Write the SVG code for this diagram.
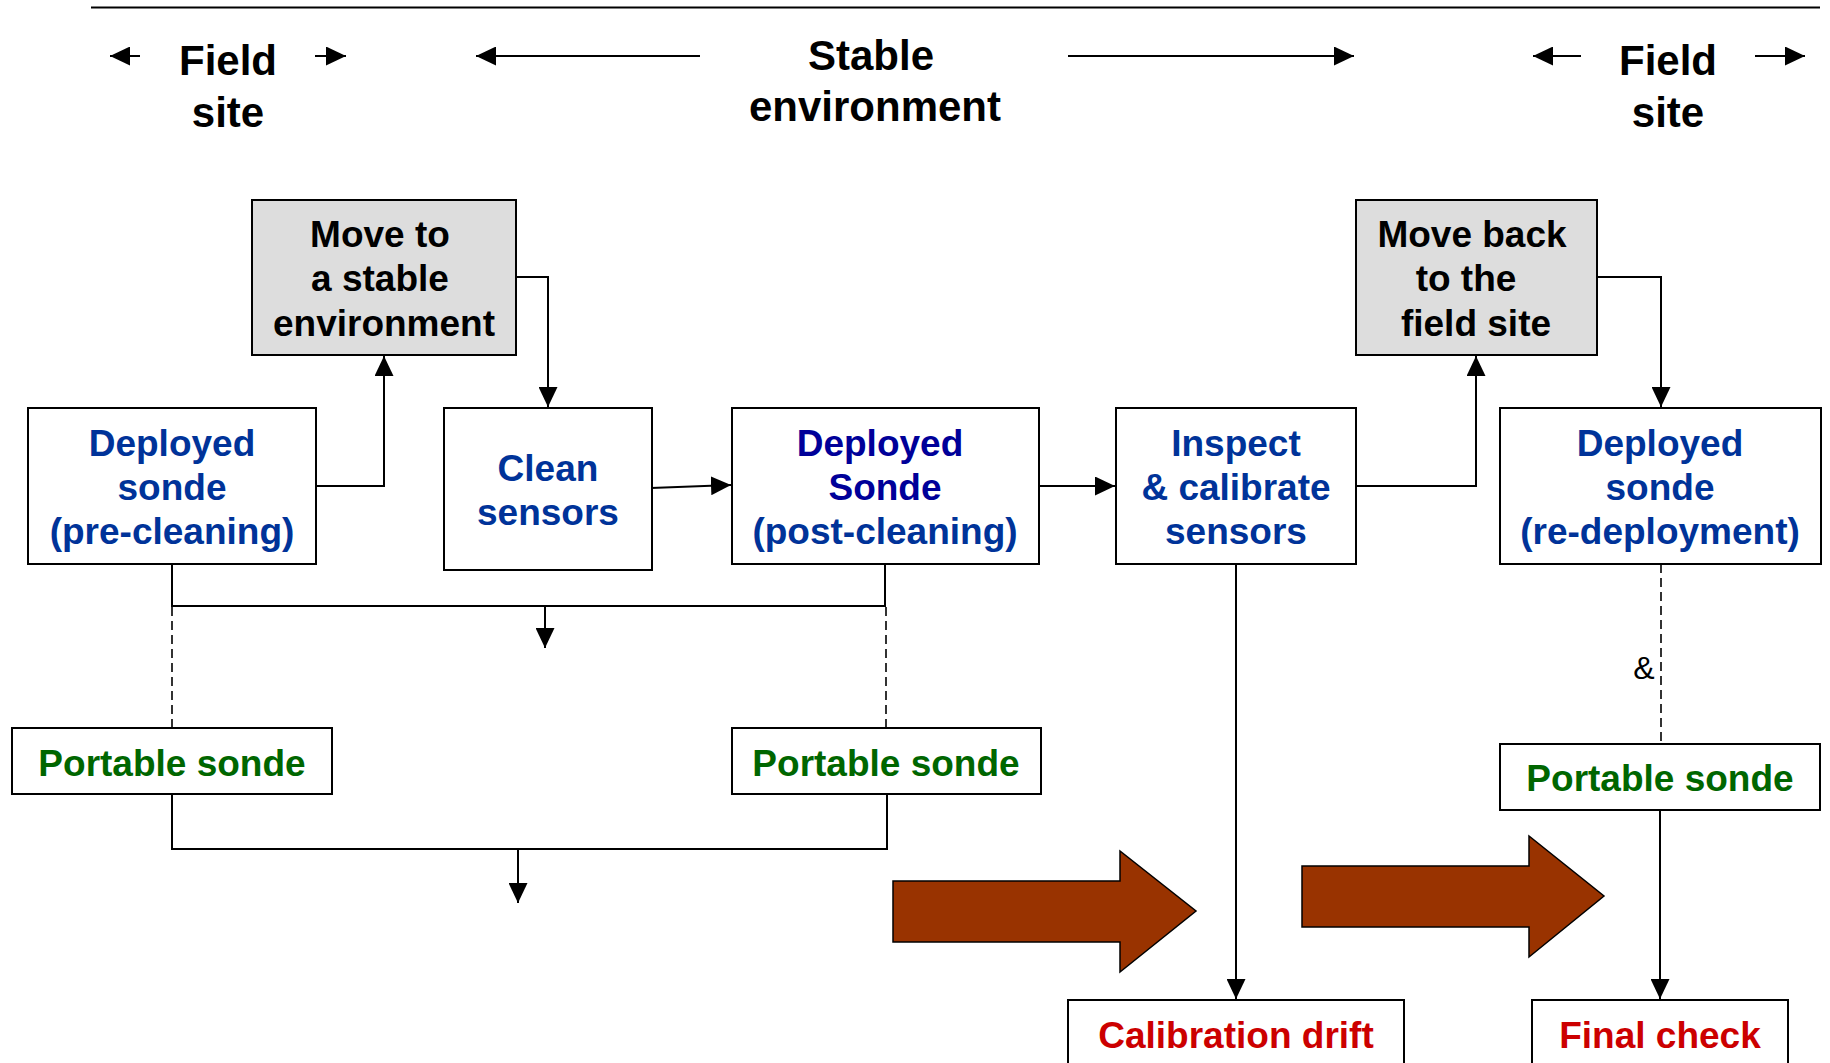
<svg xmlns="http://www.w3.org/2000/svg" width="1830" height="1063" viewBox="0 0 1830 1063">
<style>
text{font-family:"Liberation Sans",Arial,sans-serif;font-weight:bold;text-anchor:middle}
.hd{font-size:42px;fill:#000}
.gt{font-size:37px;fill:#000}
.bt{font-size:37px;fill:#003399}
.nv{font-size:37px;fill:#000099}
.gr{font-size:37px;fill:#006600}
.rd{font-size:37px;fill:#cc0000}
.box{fill:#fff;stroke:#000;stroke-width:2}
.gbox{fill:#dddddd;stroke:#000;stroke-width:2}
.ln{fill:none;stroke:#000;stroke-width:2}
.dl{fill:none;stroke:#000;stroke-width:1.6;stroke-dasharray:9,5}
.big{fill:#993300;stroke:#000;stroke-width:1.5}
</style>
<defs>
<marker id="ah" markerUnits="userSpaceOnUse" markerWidth="21" markerHeight="19" refX="20" refY="9.5" orient="auto" viewBox="0 0 21 19">
<path d="M0,0 L20,9.5 L0,19 z" fill="#000"/>
</marker>
</defs>

<g id="header">
<line x1="91" y1="7.5" x2="1820" y2="7.5" stroke="#000" stroke-width="2"/>
<line class="ln" x1="140" y1="56" x2="110" y2="56" marker-end="url(#ah)"/>
<line class="ln" x1="315" y1="56" x2="346" y2="56" marker-end="url(#ah)"/>
<text class="hd" x="228" y="75">Field</text>
<text class="hd" x="228" y="127">site</text>
<line class="ln" x1="700" y1="56" x2="476" y2="56" marker-end="url(#ah)"/>
<text class="hd" x="871" y="70">Stable</text>
<text class="hd" x="875" y="121">environment</text>
<line class="ln" x1="1068" y1="56" x2="1354" y2="56" marker-end="url(#ah)"/>
<line class="ln" x1="1581" y1="56" x2="1533" y2="56" marker-end="url(#ah)"/>
<line class="ln" x1="1755" y1="56" x2="1805" y2="56" marker-end="url(#ah)"/>
<text class="hd" x="1668" y="75">Field</text>
<text class="hd" x="1668" y="127">site</text>
</g>

<g id="connectors">
<polyline class="ln" points="316,486 384,486 384,356" marker-end="url(#ah)"/>
<polyline class="ln" points="516,277 548,277 548,407" marker-end="url(#ah)"/>
<line class="ln" x1="651" y1="488" x2="731" y2="485" marker-end="url(#ah)"/>
<line class="ln" x1="1039" y1="486" x2="1115" y2="486" marker-end="url(#ah)"/>
<polyline class="ln" points="1356,486 1476,486 1476,356" marker-end="url(#ah)"/>
<polyline class="ln" points="1597,277 1661,277 1661,407" marker-end="url(#ah)"/>
<polyline class="ln" points="172,564 172,606 885,606 885,564"/>
<line class="ln" x1="545" y1="606" x2="545" y2="648" marker-end="url(#ah)"/>
<line class="dl" x1="172" y1="607" x2="172" y2="728"/>
<line class="dl" x1="886" y1="607" x2="886" y2="728"/>
<polyline class="ln" points="172,794 172,849 887,849 887,794"/>
<line class="ln" x1="518" y1="849" x2="518" y2="903" marker-end="url(#ah)"/>
<line class="ln" x1="1236" y1="564" x2="1236" y2="999" marker-end="url(#ah)"/>
<line class="dl" x1="1661" y1="564" x2="1661" y2="744"/>
<text x="1644" y="679" style="font-weight:normal;font-size:32px;fill:#000">&amp;</text>
<line class="ln" x1="1660" y1="810" x2="1660" y2="999" marker-end="url(#ah)"/>
<polygon class="big" points="893,881 1120,881 1120,851 1196,911 1120,972 1120,942 893,942"/>
<polygon class="big" points="1302,866 1529,866 1529,836 1604,896 1529,957 1529,927 1302,927"/>
</g>

<g id="move-stable">
<rect class="gbox" x="252" y="200" width="264" height="155"/>
<text class="gt" x="380" y="247">Move to</text>
<text class="gt" x="380" y="291">a stable</text>
<text class="gt" x="384" y="336">environment</text>
</g>

<g id="move-back">
<rect class="gbox" x="1356" y="200" width="241" height="155"/>
<text class="gt" x="1472" y="247">Move back</text>
<text class="gt" x="1466" y="291">to the</text>
<text class="gt" x="1476" y="336">field site</text>
</g>

<g id="deployed-pre">
<rect class="box" x="28" y="408" width="288" height="156"/>
<text class="bt" x="172" y="456">Deployed</text>
<text class="bt" x="172" y="500">sonde</text>
<text class="bt" x="172" y="544">(pre-cleaning)</text>
</g>

<g id="clean-sensors">
<rect class="box" x="444" y="408" width="208" height="162"/>
<text class="bt" x="548" y="481">Clean</text>
<text class="bt" x="548" y="525">sensors</text>
</g>

<g id="deployed-post">
<rect class="box" x="732" y="408" width="307" height="156"/>
<text class="nv" x="880" y="456">Deployed</text>
<text class="nv" x="885" y="500">Sonde</text>
<text class="bt" x="885" y="544">(post-cleaning)</text>
</g>

<g id="inspect">
<rect class="box" x="1116" y="408" width="240" height="156"/>
<text class="bt" x="1236" y="456">Inspect</text>
<text class="bt" x="1236" y="500">&amp; calibrate</text>
<text class="bt" x="1236" y="544">sensors</text>
</g>

<g id="deployed-re">
<rect class="box" x="1500" y="408" width="321" height="156"/>
<text class="bt" x="1660" y="456">Deployed</text>
<text class="bt" x="1660" y="500">sonde</text>
<text class="bt" x="1660" y="544">(re-deployment)</text>
</g>

<g id="portable-1">
<rect class="box" x="12" y="728" width="320" height="66"/>
<text class="gr" x="172" y="776">Portable sonde</text>
</g>

<g id="portable-2">
<rect class="box" x="732" y="728" width="309" height="66"/>
<text class="gr" x="886" y="776">Portable sonde</text>
</g>

<g id="portable-3">
<rect class="box" x="1500" y="744" width="320" height="66"/>
<text class="gr" x="1660" y="791">Portable sonde</text>
</g>

<g id="calibration-drift">
<rect class="box" x="1068" y="1000" width="336" height="80"/>
<text class="rd" x="1236" y="1048">Calibration drift</text>
</g>

<g id="final-check">
<rect class="box" x="1532" y="1000" width="256" height="80"/>
<text class="rd" x="1660" y="1048">Final check</text>
</g>
</svg>
